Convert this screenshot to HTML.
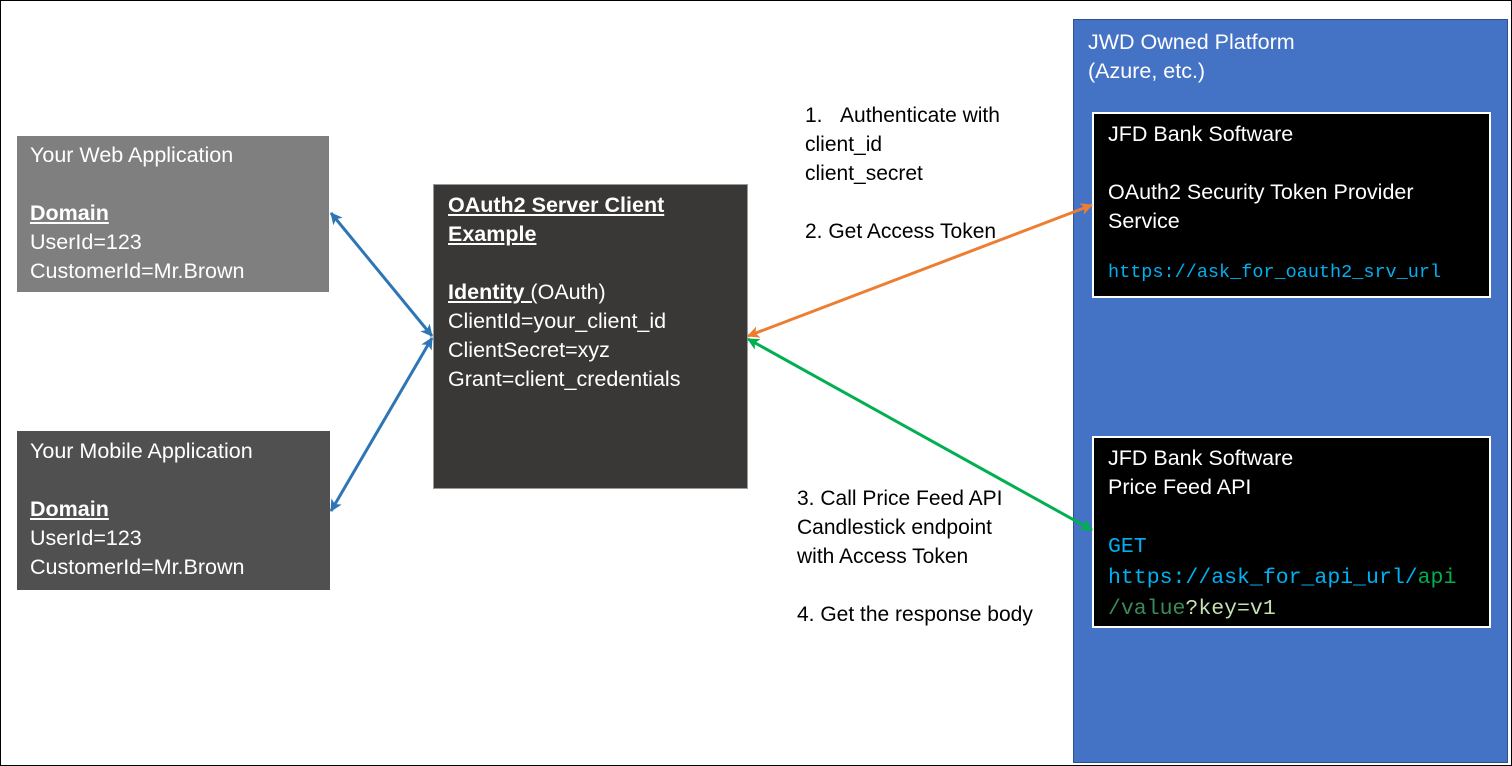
<!DOCTYPE html>
<html><head><meta charset="utf-8"><style>
body{margin:0;width:1512px;height:766px;position:relative;background:#fff;font-family:"Liberation Sans",sans-serif;overflow:hidden}
.b{position:absolute;box-sizing:border-box;color:#fff;font-size:21.5px;line-height:29px;white-space:nowrap}
.t{position:absolute;font-size:21px;line-height:29px;color:#000;white-space:nowrap}
.m{font-family:"Liberation Mono",monospace;font-size:18.5px}
u{text-decoration:underline}
</style></head><body>
<div style="position:absolute;left:0;top:0;width:1512px;height:766px;box-sizing:border-box;border:1px solid #000"></div>
<div class="b" style="left:17px;top:136px;width:312px;height:156px;background:#7f7f7f;padding:5px 13px">Your Web Application<br><br><b><u>Domain</u></b><br>UserId=123<br>CustomerId=Mr.Brown</div>
<div class="b" style="left:17px;top:431px;width:313px;height:159px;background:#505050;padding:6px 13px">Your Mobile Application<br><br><b><u>Domain</u></b><br>UserId=123<br>CustomerId=Mr.Brown</div>
<div class="b" style="left:433px;top:184px;width:315px;height:305px;background:#3a3836;border:1px solid #999;padding:6px 14px"><b><u>OAuth2 Server Client<br>Example</u></b><br><br><b><u>Identity </u></b><u>(</u>OAuth)<br>ClientId=your_client_id<br>ClientSecret=xyz<br>Grant=client_credentials</div>
<div class="b" style="left:1073px;top:19px;width:435px;height:744px;background:#4472c4;border:1px solid #2f528f;padding:8px 14px">JWD Owned Platform<br>(Azure, etc.)</div>
<div class="b" style="left:1092px;top:112px;width:399px;height:186px;background:#000;border:2px solid #fff;padding:6px 14px">JFD Bank Software<br><br>OAuth2 Security Token Provider<br>Service<br><span class="m" style="color:#00b0f0;display:block;margin-top:22px">https://ask_for_oauth2_srv_url</span></div>
<div class="b" style="left:1092px;top:436px;width:399px;height:192px;background:#000;border:2px solid #fff;padding:6px 14px">JFD Bank Software<br>Price Feed API<br><br><span class="m" style="color:#00b0f0;font-size:21.5px">GET<br>https://ask_for_api_url/<span style="color:#00b050">api</span><br><span style="color:#3a8a5a">/value</span><span style="color:#c6e0b4">?key=v1</span></span></div>
<div class="t" style="left:805px;top:101px">1.&nbsp;&nbsp;&nbsp;Authenticate with<br>client_id<br>client_secret<br><br>2. Get Access Token</div>
<div class="t" style="left:797px;top:484px">3. Call Price Feed API<br>Candlestick endpoint<br>with Access Token<br><br>4. Get the response body</div>
<svg width="1512" height="766" style="position:absolute;left:0;top:0">
<defs>
<marker id="bl" markerWidth="12" markerHeight="12" refX="11" refY="6" orient="auto-start-reverse" markerUnits="userSpaceOnUse"><path d="M0,0 L12,6 L0,12 L3,6z" fill="#2e75b6"/></marker>
<marker id="or" markerWidth="12" markerHeight="12" refX="11" refY="6" orient="auto-start-reverse" markerUnits="userSpaceOnUse"><path d="M0,0 L12,6 L0,12 L3,6z" fill="#ed7d31"/></marker>
<marker id="gr" markerWidth="12" markerHeight="12" refX="11" refY="6" orient="auto-start-reverse" markerUnits="userSpaceOnUse"><path d="M0,0 L12,6 L0,12 L3,6z" fill="#00b050"/></marker>
</defs>
<line x1="331" y1="213" x2="432" y2="336" stroke="#2e75b6" stroke-width="3" marker-start="url(#bl)" marker-end="url(#bl)"/>
<line x1="331" y1="511" x2="432" y2="338" stroke="#2e75b6" stroke-width="3" marker-start="url(#bl)" marker-end="url(#bl)"/>
<line x1="748" y1="336" x2="1092" y2="205" stroke="#ed7d31" stroke-width="3" marker-start="url(#or)" marker-end="url(#or)"/>
<line x1="748" y1="339" x2="1092" y2="530" stroke="#00b050" stroke-width="3" marker-start="url(#gr)" marker-end="url(#gr)"/>
</svg>
</body></html>
